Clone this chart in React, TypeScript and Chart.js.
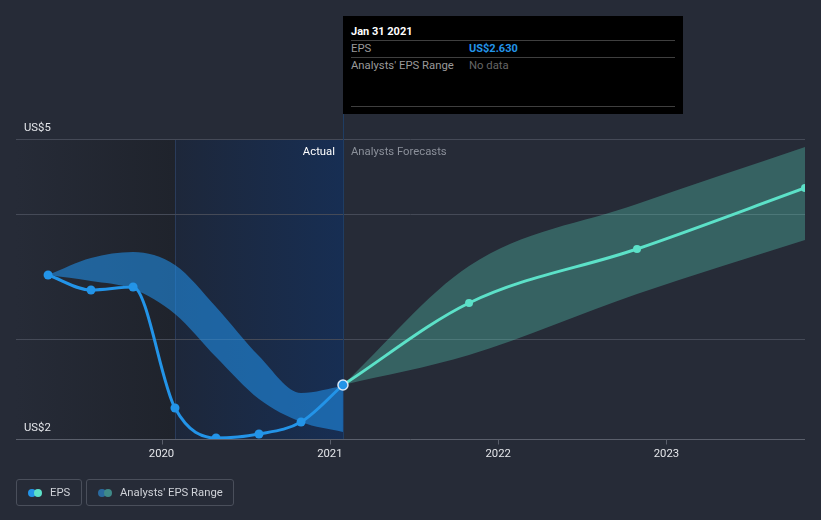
import React, { useEffect, useRef } from "react";
import { Chart, registerables } from "chart.js";

Chart.register(...registerables);

// ---- data (decimal years / US$) ----
const actualYears = [2019.326, 2019.581, 2019.831, 2020.08, 2020.324, 2020.579, 2020.829, 2021.078];
const actualEps = [3.64, 3.49, 3.52, 2.31, 2.01, 2.05, 2.17, 2.54];
const actualRangeLow = [3.64, 3.58, 3.5, 3.25, 2.82, 2.4, 2.17, 2.07];
const actualRangeHigh = [3.64, 3.81, 3.87, 3.74, 3.32, 2.83, 2.46, 2.53];

const forecastYears = [2021.078, 2021.827, 2022.825, 2023.823];
const forecastEps = [2.54, 3.36, 3.9, 4.51];
const forecastLow = [2.54, 2.84, 3.45, 3.99];
const forecastHigh = [2.54, 3.73, 4.35, 4.92];

const yearTicks = [2020, 2021, 2022, 2023];
const yearLabels = ["2020", "2021", "2022", "2023"];
const gridValues = [3, 4.25, 5];
const yLabelValues = [5, 2];
const yLabelTexts = ["US$5", "US$2"];

const X_MIN = 2019.1355;
const X_MAX = 2023.823;
const Y_MIN = 2;
const Y_MAX = 5;
const HIGHLIGHT_START = 2020.08;
const LAST_ACTUAL = 2021.078;

const FONT = "Roboto, 'Noto Sans', sans-serif";
const FS = 11.3;
const BG = "#262b37";
const BLUE = "#2394e8";
const TEAL = "#5ce1c8";

const pts = (xs: number[], ys: number[]) => xs.map((x, i) => ({ x, y: ys[i] }));

const decorPlugin = {
  id: "decor",
  beforeDatasetsDraw(chart: any) {
    const { ctx, chartArea: a, scales } = chart;
    const xs = scales.x;
    const ys = scales.y;
    const hx = xs.getPixelForValue(HIGHLIGHT_START);
    const lx = xs.getPixelForValue(LAST_ACTUAL);
    ctx.save();
    let g = ctx.createLinearGradient(a.left, 0, hx, 0);
    g.addColorStop(0, "rgba(38,43,55,1)");
    g.addColorStop(1, "rgba(31,35,44,1)");
    ctx.fillStyle = g;
    ctx.fillRect(a.left, a.top, hx - a.left, a.bottom - a.top);
    g = ctx.createLinearGradient(hx, 0, lx, 0);
    g.addColorStop(0, "rgba(29,39,58,1)");
    g.addColorStop(1, "rgba(23,46,83,1)");
    ctx.fillStyle = g;
    ctx.fillRect(hx, a.top, lx - hx, a.bottom - a.top);
    ctx.strokeStyle = "rgba(60,85,130,0.45)";
    ctx.lineWidth = 1;
    ctx.beginPath();
    ctx.moveTo(Math.round(hx) + 0.5, a.top);
    ctx.lineTo(Math.round(hx) + 0.5, a.bottom);
    ctx.stroke();
    ctx.strokeStyle = "#454a57";
    gridValues.forEach((v) => {
      const y = Math.round(ys.getPixelForValue(v)) + 0.5;
      ctx.beginPath();
      ctx.moveTo(a.left, y);
      ctx.lineTo(a.right, y);
      ctx.stroke();
    });
    ctx.strokeStyle = "#5a5f6b";
    const by = Math.round(ys.getPixelForValue(Y_MIN)) + 0.5;
    ctx.beginPath();
    ctx.moveTo(a.left, by);
    ctx.lineTo(a.right, by);
    ctx.stroke();
    yearTicks.forEach((t) => {
      const x = Math.round(xs.getPixelForValue(t)) + 0.5;
      ctx.beginPath();
      ctx.moveTo(x, by);
      ctx.lineTo(x, by + 5);
      ctx.stroke();
    });
    ctx.strokeStyle = "#1f3d63";
    ctx.beginPath();
    ctx.moveTo(Math.round(lx) + 0.5, 114);
    ctx.lineTo(Math.round(lx) + 0.5, a.bottom);
    ctx.stroke();
    ctx.restore();
  },
  afterDraw(chart: any) {
    const { ctx, chartArea: a, scales } = chart;
    const xs = scales.x;
    const ys = scales.y;
    ctx.save();
    ctx.font = `${FS}px ${FONT}`;
    ctx.textBaseline = "middle";
    ctx.fillStyle = "#e4e6ea";
    ctx.textAlign = "left";
    yLabelValues.forEach((v, i) => {
      ctx.fillText(yLabelTexts[i], a.left + 8, ys.getPixelForValue(v) - 10.5);
    });
    ctx.textAlign = "center";
    const by = ys.getPixelForValue(Y_MIN);
    yearTicks.forEach((t, i) => {
      ctx.fillText(yearLabels[i], xs.getPixelForValue(t), by + 15);
    });
    const lx = xs.getPixelForValue(LAST_ACTUAL);
    ctx.textAlign = "right";
    ctx.fillStyle = "#ffffff";
    ctx.fillText("Actual", lx - 8, a.top + 13.5);
    ctx.textAlign = "left";
    ctx.fillStyle = "#8b909a";
    ctx.fillText("Analysts Forecasts", lx + 8, a.top + 13.5);
    ctx.restore();
  },
};

export default function App() {
  const ref = useRef<HTMLCanvasElement>(null);
  useEffect(() => {
    document.body.style.margin = "0";
    document.body.style.background = BG;
    const canvas = ref.current!;
    const chart = new Chart(canvas, {
      type: "line",
      data: {
        datasets: [
          {
            label: "EPS",
            data: pts(actualYears, actualEps),
            borderColor: BLUE,
            backgroundColor: BLUE,
            borderWidth: 3,
            pointRadius: actualYears.map((_, i) => (i === actualYears.length - 1 ? 5 : 4.5)),
            pointBackgroundColor: BLUE,
            pointBorderColor: actualYears.map((_, i) => (i === actualYears.length - 1 ? "#d6e8fa" : BLUE)),
            pointBorderWidth: actualYears.map((_, i) => (i === actualYears.length - 1 ? 1.5 : 0)),
            cubicInterpolationMode: "monotone",
            fill: false,
            order: 0,
          },
          {
            label: "EPS forecast",
            data: pts(forecastYears, forecastEps),
            borderColor: TEAL,
            backgroundColor: TEAL,
            borderWidth: 3,
            pointRadius: forecastYears.map((_, i) => (i === 0 ? 0 : 4)),
            pointBorderWidth: 0,
            cubicInterpolationMode: "monotone",
            fill: false,
            order: 1,
          },
          {
            label: "range low",
            data: pts(actualYears, actualRangeLow),
            borderWidth: 0,
            pointRadius: 0,
            cubicInterpolationMode: "monotone",
            fill: false,
            order: 2,
          },
          {
            label: "Analysts' EPS Range",
            data: pts(actualYears, actualRangeHigh),
            borderWidth: 0,
            pointRadius: 0,
            cubicInterpolationMode: "monotone",
            backgroundColor: "rgba(33,150,243,0.55)",
            fill: 2,
            order: 2,
          },
          {
            label: "forecast low",
            data: pts(forecastYears, forecastLow),
            borderWidth: 0,
            pointRadius: 0,
            cubicInterpolationMode: "monotone",
            fill: false,
            order: 3,
          },
          {
            label: "forecast range",
            data: pts(forecastYears, forecastHigh),
            borderWidth: 0,
            pointRadius: 0,
            cubicInterpolationMode: "monotone",
            backgroundColor: "rgba(92,225,200,0.3)",
            fill: 4,
            order: 3,
          },
        ],
      },
      options: {
        animation: false,
        responsive: false,
        events: [],
        layout: { padding: { left: 16, right: 16, top: 139, bottom: 81 } },
        scales: {
          x: { type: "linear", display: false, min: X_MIN, max: X_MAX },
          y: { type: "linear", display: false, min: Y_MIN, max: Y_MAX },
        },
        plugins: {
          legend: { display: false },
          tooltip: { enabled: false },
        },
      },
      plugins: [decorPlugin],
    } as any);
    return () => chart.destroy();
  }, []);

  const rowStyle: React.CSSProperties = {
    position: "absolute",
    fontSize: FS,
    lineHeight: "14px",
    whiteSpace: "nowrap",
  };
  const hr = (top: number): React.CSSProperties => ({
    position: "absolute",
    left: 8,
    width: 324,
    top,
    height: 1,
    background: "#3f3f3f",
  });
  const legendBox: React.CSSProperties = {
    position: "absolute",
    top: 479,
    height: 25,
    border: "1px solid #4a4f5b",
    borderRadius: 3,
    boxSizing: "content-box",
  };
  const dot = (left: number, color: string): React.CSSProperties => ({
    position: "absolute",
    left,
    top: 9,
    width: 8,
    height: 8,
    borderRadius: "50%",
    background: color,
  });
  const legendText: React.CSSProperties = {
    position: "absolute",
    top: 6,
    fontSize: FS,
    lineHeight: "14px",
    color: "#cfd2d8",
    whiteSpace: "nowrap",
  };

  return (
    <div
      style={{
        position: "fixed",
        left: 0,
        top: 0,
        width: 821,
        height: 520,
        background: BG,
        fontFamily: FONT,
        overflow: "hidden",
      }}
    >
      <canvas ref={ref} width={821} height={520} style={{ position: "absolute", left: 0, top: 0 }} />
      <div
        style={{
          position: "absolute",
          left: 343,
          top: 16,
          width: 340,
          height: 98,
          background: "#000000",
        }}
      >
        <div style={{ ...rowStyle, left: 8, top: 9, color: "#ffffff", fontWeight: 700, fontSize: 11 }}>Jan 31 2021</div>
        <div style={hr(24)} />
        <div style={{ ...rowStyle, left: 8, top: 26, color: "#9a9a9a" }}>EPS</div>
        <div style={{ ...rowStyle, left: 126, top: 26, color: BLUE, fontWeight: 700, fontSize: 11 }}>US$2.630</div>
        <div style={hr(41)} />
        <div style={{ ...rowStyle, left: 8, top: 43, color: "#9a9a9a" }}>Analysts' EPS Range</div>
        <div style={{ ...rowStyle, left: 126, top: 43, color: "#666666" }}>No data</div>
        <div style={hr(90)} />
      </div>
      <div style={{ ...legendBox, left: 16, width: 64 }}>
        <div style={dot(11, BLUE)} />
        <div style={dot(17, TEAL)} />
        <div style={{ ...legendText, left: 33 }}>EPS</div>
      </div>
      <div style={{ ...legendBox, left: 86, width: 146 }}>
        <div style={dot(11, "#2a6a9e")} />
        <div style={dot(17, "#3f8a88")} />
        <div style={{ ...legendText, left: 33 }}>Analysts' EPS Range</div>
      </div>
    </div>
  );
}
